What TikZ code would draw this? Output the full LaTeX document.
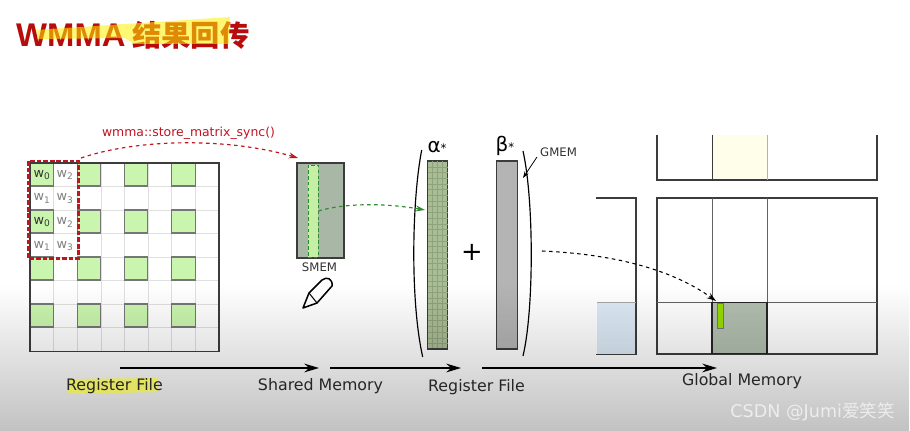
\documentclass[tikz,border=0pt]{standalone}
\usepackage{fontspec}
\setmainfont{DejaVu Sans}
\newfontfamily\titlefont{Liberation Sans}
\newfontfamily\cjkfont{Noto Sans CJK SC}
\usetikzlibrary{fadings,arrows.meta}
\definecolor{cellgreen}{HTML}{CAF5AE}
\definecolor{smemgreen}{HTML}{A9B8A6}
\definecolor{stripgreen}{HTML}{C6EFA6}
\definecolor{stripline}{HTML}{2E8B2E}
\definecolor{alphagreen}{HTML}{A9BD94}
\definecolor{betagray}{HTML}{B4B4B4}
\definecolor{boxred}{HTML}{C0141E}
\definecolor{titlered}{HTML}{B80C0C}
\definecolor{darkline}{HTML}{3C3C3C}
\definecolor{markyellow}{HTML}{E6E650}
\definecolor{palesky}{HTML}{DCE9F5}
\definecolor{barlime}{HTML}{96DC00}
\tikzfading[name=fadedark, top color=transparent!100, bottom color=transparent!76]
\tikzset{
	cell/.style = {draw = darkline!70, line width = 0.9pt, fill = cellgreen},
	wlabel/.style = {font = \fontsize{11}{11}\selectfont, text = gray},
	caption/.style = {font = \fontsize{13.5}{14}\selectfont, text = black!85},
	smalltext/.style = {font = \fontsize{10}{10}\selectfont, text = black!80},
	flow/.style = {-{Stealth[length = 4.4mm, width = 2.6mm]}, line width = 1.1pt},
	memline/.style = {draw = darkline, line width = 1.1pt},
	column/.style = {draw = darkline, line width = 1pt}
}
\begin{document}
\begin{tikzpicture}[x = 0.03cm, y = -0.03cm]
\useasboundingbox (0,0) rectangle (910,431);
\fill[white] (0,0) rectangle (910,431);

% title
\node[anchor = west, inner sep = 0, text = titlered, font = \titlefont\bfseries\fontsize{28}{28}\selectfont] (wmma) at (16,35) {WMMA};
\node[anchor = west, inner sep = 0, text = titlered, font = \cjkfont\bfseries\fontsize{25}{25}\selectfont] (resulttitle) at (132,35) {结果回传};
\fill[yellow, opacity = 0.55] (36,30) -- (125,24) -- (230,17) -- (229,44) -- (134,44) -- (125,38) -- (38,39) -- cycle;

% register file
\foreach \x in {1,...,7} {
	\draw[gray!25, line width = 0.6pt] ({30 + \x*23.625},163) -- ({30 + \x*23.625},351);
	\draw[gray!25, line width = 0.6pt] (30,{163 + \x*23.5}) -- (219,{163 + \x*23.5});
}
\foreach \x in {0,2,4,6} {
	\foreach \y in {0,2,4,6} {
		\draw[cell] ({30 + \x*23.625},{163 + \y*23.5}) rectangle ++(23.4,23);
	}
}
\draw[draw = darkline, line width = 1.2pt] (30,163) rectangle (219,351.5);
\foreach \y / \n in {0/a,2/b} {
	\node[wlabel, text = black!80] (w0\n) at (42,{175 + \y*23.7}) {w\textsubscript{0}};
	\node[wlabel] (w2\n) at (65,{175 + \y*23.7}) {w\textsubscript{2}};
	\node[wlabel] (w1\n) at (42,{198.5 + \y*23.7}) {w\textsubscript{1}};
	\node[wlabel] (w3\n) at (65,{198.5 + \y*23.7}) {w\textsubscript{3}};
}
\draw[boxred, line width = 2pt, dash pattern = on 4pt off 1.6pt] (28.5,161) rectangle (78.5,258.5);
\coordinate (regout) at (81,158);

% shared memory
\node[draw = darkline, line width = 0.9pt, fill = smemgreen, minimum width = 1.41cm, minimum height = 2.85cm, inner sep = 0] (smem) at (320.5,210.5) {};
\node[draw = stripline, densely dashed, line width = 0.7pt, fill = stripgreen, minimum width = 0.3cm, minimum height = 2.76cm, inner sep = 0] (strip) at (313,211) {};
\node[smalltext] (smemlabel) at (319.5,267.5) {SMEM};
\coordinate (smemin) at (298,158);
\draw[boxred, dashed, line width = 1pt, -{Stealth[length = 2.8mm, width = 1.8mm]}] (regout) .. controls (140,138) and (230,138) .. (smemin);
\node[above, inner sep = 0, text = boxred, font = \fontsize{10.6}{10}\selectfont] (syncname) at (188.5,139.5) {wmma::store\_matrix\_sync()};

% pen
\draw[fill = white, line width = 1.3pt, line join = round] (303,308) -- (309,293) -- (322,280) .. controls (327,276) and (333,279) .. (332,286) -- (317,303) -- cycle;
\draw[line width = 0.9pt] (309,293) -- (317,303);

% alpha and beta
\node[column, fill = alphagreen, minimum width = 0.62cm, minimum height = 5.64cm, inner sep = 0] (alpha) at (437.5,255) {};
\foreach \x in {1,...,3} {
	\draw[black!15!alphagreen, line width = 0.3pt] ({427.5 + \x*5},161.5) -- ({427.5 + \x*5},348.5);
}
\foreach \y in {1,...,32} {
	\draw[black!15!alphagreen, line width = 0.3pt] (428,{161 + \y*5.7}) -- (448,{161 + \y*5.7});
}
\node[column, fill = betagray, minimum width = 0.62cm, minimum height = 5.64cm, inner sep = 0] (beta) at (507,255) {};
\draw[line width = 1pt] (421.7,150) .. controls (412,200) and (410,300) .. (422.7,357);
\draw[line width = 1pt] (523,151) .. controls (534,200) and (534,310) .. (523,356);
\node[inner sep = 0] (alphalabel) at (437,147) {\fontsize{17}{17}\selectfont α\fontsize{10}{10}\selectfont *};
\node[inner sep = 0] (betalabel) at (505,146) {\fontsize{17}{17}\selectfont β\fontsize{10}{10}\selectfont *};
\node[inner sep = 0, font = \fontsize{22}{22}\selectfont] (plus) at (472,252) {+};
\node[smalltext, anchor = west, inner sep = 0] (gmemlabel) at (540,152) {GMEM};
\coordinate (gmemtail) at (537,157);
\coordinate (gmemtip) at (523,178);
\draw[-{Stealth[length = 2mm, width = 1.4mm]}, line width = 0.7pt] (gmemtail) -- (gmemtip);
\coordinate (alphain) at (425,210);
\draw[stripline, dashed, line width = 1pt, -{Stealth[length = 2.8mm, width = 1.8mm]}] (strip.east) .. controls (345,203) and (385,203) .. (alphain);

% global memory
\fill[yellow!8] (712,135) rectangle (767,180);
\draw[memline] (657,135) -- (657,180) -- (877,180) -- (877,135);
\draw[darkline, line width = 0.7pt] (712,135) -- (712,180);
\draw[gray!60, line width = 0.7pt] (767,135) -- (767,180);
\fill[palesky] (597,302) rectangle (636,354);
\draw[memline] (596,198) -- (636,198) -- (636,354.5) -- (596,354.5);
\draw[gray!70, line width = 0.5pt] (597,302) -- (636,302);
\draw[memline] (657,198) rectangle (877,354);
\draw[darkline!80, line width = 0.7pt] (712,198) -- (712,354);
\draw[darkline!80, line width = 0.7pt] (767,198) -- (767,354);
\draw[darkline!80, line width = 0.7pt] (657,302) -- (877,302);
\node[draw = black!85, line width = 1.3pt, fill = smemgreen!90!white, minimum width = 1.65cm, minimum height = 1.53cm, inner sep = 0] (target) at (739.5,328) {};
\node[draw = darkline!70, line width = 0.4pt, fill = barlime, minimum width = 0.16cm, minimum height = 0.76cm, inner sep = 0] (bar) at (720.3,316) {};
\coordinate (betaout) at (542,251);
\coordinate (targetin) at (716,301);
\draw[dashed, line width = 0.9pt, -{Stealth[length = 2.8mm, width = 1.8mm]}] (betaout) .. controls (610,254) and (670,268) .. (targetin);

% video shade
\fill[black, path fading = fadedark] (0,285) rectangle (910,431);

% stages
\fill[markyellow, opacity = 0.85] (67,379) -- (158,378) -- (158,392) -- (68,394) -- cycle;
\coordinate (a1) at (120,368);
\coordinate (a2) at (319,368);
\coordinate (b1) at (330,368);
\coordinate (b2) at (461,368);
\coordinate (c1) at (482,368);
\coordinate (c2) at (717,368);
\draw[flow] (a1) -- (a2);
\draw[flow] (b1) -- (b2);
\draw[flow] (c1) -- (c2);
\node[caption] (regfileone) at (114.5,386) {Register File};
\node[caption] (sharedmem) at (320.5,386) {Shared Memory};
\node[caption] (regfiletwo) at (476.5,387) {Register File};
\node[caption] (globalmem) at (742,381) {Global Memory};

% watermark
\node[anchor = east, inner sep = 0, text = white!93!black, font = \fontsize{15}{15}\selectfont] (csdn) at (895,412) {CSDN @Jumi{\cjkfont 爱笑笑}};
\end{tikzpicture}
\end{document}
